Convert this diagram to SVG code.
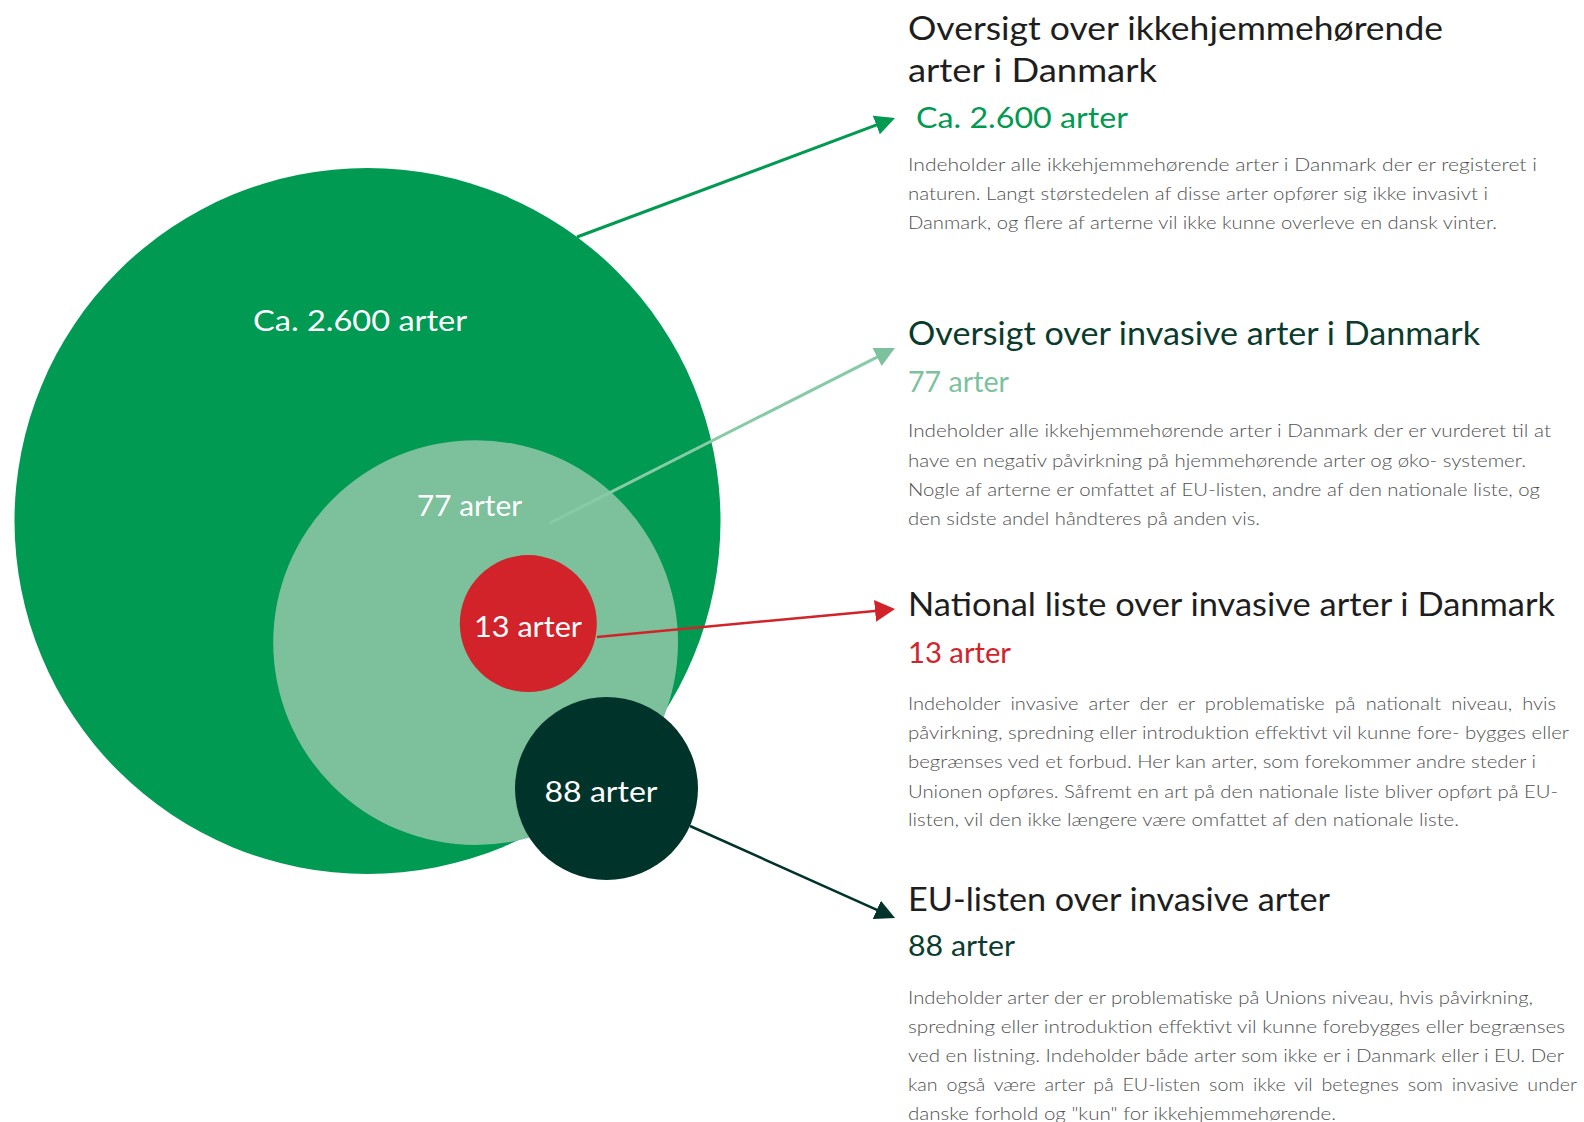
<svg xmlns="http://www.w3.org/2000/svg" width="1584" height="1122" viewBox="0 0 1584 1122">
<style>
text{font-family:Lato,"Open Sans","Liberation Sans",sans-serif}
.title{font-size:32px;fill:#1e1e1e}
.count{font-size:29px}
.body{font-size:17px;fill:#505050;font-weight:300}
.lbl{font-size:29px;fill:#ffffff;text-anchor:middle}
.conn{fill:none}
</style>
<defs>
<marker id="ah1" markerUnits="userSpaceOnUse" markerWidth="20" markerHeight="20" viewBox="0 0 20 20" refX="16" refY="10" orient="auto"><path d="M0,0 L20,10 L0,20 z" fill="#009a50"/></marker>
<marker id="ah2" markerUnits="userSpaceOnUse" markerWidth="20" markerHeight="20" viewBox="0 0 20 20" refX="16" refY="10" orient="auto"><path d="M0,0 L20,10 L0,20 z" fill="#7dc29e"/></marker>
<marker id="ah3" markerUnits="userSpaceOnUse" markerWidth="20" markerHeight="22" viewBox="0 0 20 22" refX="16" refY="11" orient="auto"><path d="M0,0 L20,11 L0,22 z" fill="#d2232a"/></marker>
<marker id="ah4" markerUnits="userSpaceOnUse" markerWidth="20" markerHeight="20" viewBox="0 0 20 20" refX="16" refY="10" orient="auto"><path d="M0,0 L20,10 L0,20 z" fill="#00332a"/></marker>
</defs>
<rect width="1584" height="1122" fill="#ffffff"/>

<g id="node-all">
<circle cx="367.5" cy="521" r="353" fill="#009a52"/>
<text class="lbl" x="360" y="330.5" textLength="214" lengthAdjust="spacingAndGlyphs">Ca. 2.600 arter</text>
</g>
<g id="node-invasive">
<circle cx="475.6" cy="642.6" r="202.4" fill="#7dc09c"/>
<text class="lbl" x="469.5" y="515.5" textLength="105" lengthAdjust="spacingAndGlyphs">77 arter</text>
</g>

<g id="connectors">
<path class="conn" d="M577,237 L891.3,119.4" stroke="#009a50" stroke-width="3" marker-end="url(#ah1)"/>
<path class="conn" d="M550,523 L891.4,349.8" stroke="#86cba6" stroke-width="3" marker-end="url(#ah2)"/>
<path class="conn" d="M597,637 L891,609.4" stroke="#d2232a" stroke-width="2.5" marker-end="url(#ah3)"/>
<path class="conn" d="M690,826 L891.4,916.4" stroke="#00332a" stroke-width="2.5" marker-end="url(#ah4)"/>
</g>

<g id="node-national">
<circle cx="528.3" cy="623.6" r="68.5" fill="#d2232a"/>
<text class="lbl" x="528" y="637" textLength="108" lengthAdjust="spacingAndGlyphs">13 arter</text>
</g>
<g id="node-eu">
<circle cx="606.5" cy="788.5" r="91.5" fill="#00332a"/>
<text class="lbl" x="601" y="802" textLength="113" lengthAdjust="spacingAndGlyphs">88 arter</text>
</g>

<g id="desc-all">
<text class="title" x="908" y="39.5" textLength="535" lengthAdjust="spacingAndGlyphs">Oversigt over ikkehjemmehørende</text>
<text class="title" x="908" y="82" textLength="249" lengthAdjust="spacingAndGlyphs">arter i Danmark</text>
<text class="count" x="916" y="127.5" fill="#009a50" textLength="212" lengthAdjust="spacingAndGlyphs">Ca. 2.600 arter</text>
<text class="body" x="908" y="170.5" textLength="629" lengthAdjust="spacingAndGlyphs">Indeholder alle ikkehjemmehørende arter i Danmark der er registeret i</text>
<text class="body" x="908" y="199.8" textLength="580" lengthAdjust="spacingAndGlyphs">naturen. Langt størstedelen af disse arter opfører sig ikke invasivt i</text>
<text class="body" x="908" y="229" textLength="589" lengthAdjust="spacingAndGlyphs">Danmark, og flere af arterne vil ikke kunne overleve en dansk vinter.</text>
</g>

<g id="desc-invasive">
<text class="title" x="908" y="345" textLength="572" lengthAdjust="spacingAndGlyphs" style="fill:#0b3b2d">Oversigt over invasive arter i Danmark</text>
<text class="count" x="908" y="391.5" fill="#7dc29e" textLength="101" lengthAdjust="spacingAndGlyphs">77 arter</text>
<text class="body" x="908" y="437.3" textLength="643" lengthAdjust="spacingAndGlyphs">Indeholder alle ikkehjemmehørende arter i Danmark der er vurderet   til at</text>
<text class="body" x="908" y="466.8" textLength="618" lengthAdjust="spacingAndGlyphs">have en negativ påvirkning på hjemmehørende arter og øko- systemer.</text>
<text class="body" x="908" y="496.3" textLength="632" lengthAdjust="spacingAndGlyphs">Nogle af arterne er omfattet af EU-listen, andre af den nationale liste, og</text>
<text class="body" x="908" y="525.3" textLength="352" lengthAdjust="spacingAndGlyphs">den sidste andel håndteres på anden vis.</text>
</g>

<g id="desc-national">
<text class="title" x="908" y="616.3" textLength="647" lengthAdjust="spacingAndGlyphs">National liste over invasive arter i Danmark</text>
<text class="count" x="908" y="663" fill="#d2232a" textLength="103" lengthAdjust="spacingAndGlyphs">13 arter</text>
<text class="body" x="908" y="709.6" textLength="648" lengthAdjust="spacingAndGlyphs" word-spacing="4">Indeholder invasive arter der er problematiske på nationalt niveau, hvis</text>
<text class="body" x="908" y="739" textLength="661" lengthAdjust="spacingAndGlyphs">påvirkning, spredning eller introduktion effektivt vil kunne fore- bygges eller</text>
<text class="body" x="908" y="768.2" textLength="628" lengthAdjust="spacingAndGlyphs">begrænses ved et forbud. Her kan arter, som forekommer andre steder i</text>
<text class="body" x="908" y="797.7" textLength="650" lengthAdjust="spacingAndGlyphs">Unionen opføres. Såfremt en art på den nationale liste bliver opført på EU-</text>
<text class="body" x="908" y="826" textLength="551" lengthAdjust="spacingAndGlyphs">listen, vil den ikke længere være omfattet af den nationale liste.</text>
</g>

<g id="desc-eu">
<text class="title" x="908" y="910.8" textLength="422" lengthAdjust="spacingAndGlyphs">EU-listen over invasive arter</text>
<text class="count" x="908" y="956.4" fill="#0b3d2e" textLength="107" lengthAdjust="spacingAndGlyphs">88 arter</text>
<text class="body" x="908" y="1004.2" textLength="625" lengthAdjust="spacingAndGlyphs">Indeholder arter der er problematiske på Unions niveau, hvis påvirkning,</text>
<text class="body" x="908" y="1033.2" textLength="657" lengthAdjust="spacingAndGlyphs">spredning eller introduktion effektivt vil kunne forebygges eller   begrænses</text>
<text class="body" x="908" y="1061.8" textLength="656" lengthAdjust="spacingAndGlyphs">ved en listning. Indeholder både arter som ikke er i Danmark eller i EU. Der</text>
<text class="body" x="908" y="1091.2" textLength="669" lengthAdjust="spacingAndGlyphs" word-spacing="3">kan også være arter på EU-listen som ikke vil betegnes som invasive under</text>
<text class="body" x="908" y="1119.7" textLength="428" lengthAdjust="spacingAndGlyphs">danske forhold og "kun" for ikkehjemmehørende.</text>
</g>
</svg>
